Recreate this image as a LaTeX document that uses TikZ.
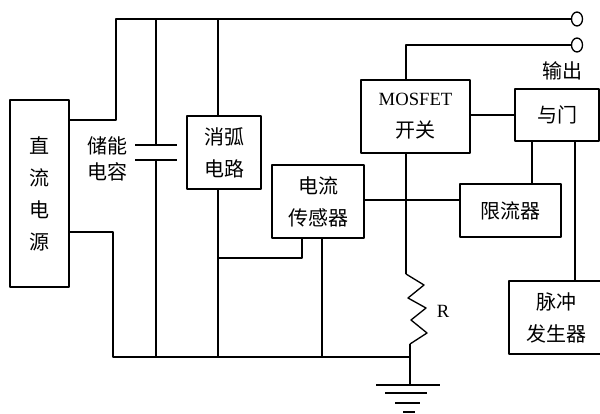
\documentclass[tikz,border=0pt]{standalone}
\usepackage{fontspec}
\usetikzlibrary{shapes.geometric}
\setmainfont{Liberation Serif}
\newfontfamily\cjk{Noto Sans CJK SC}

\tikzset{
  wire/.style={line width=1pt,line join=round},
  block/.style={draw,line width=1.1pt,inner sep=0pt,align=center,font=\cjk\fontsize{15}{24}\selectfont},
  plain/.style={inner sep=0pt,align=center,font=\cjk\fontsize{15}{20}\selectfont},
  terminal/.style={draw,ellipse,minimum width=8.25pt,minimum height=10.5pt,inner sep=0pt}
}

\begin{document}
\begin{tikzpicture}
  [x=.75pt,y=-.75pt,every path/.style={wire}]
  \useasboundingbox (0,0) rectangle (600,414);

  \node[block,minimum width=44.25pt,minimum height=140.25pt] (dc) at (39.5,193.5) {直\\流\\电\\源};
  \node[block,minimum width=55.5pt,minimum height=54.75pt] (arc) at (224,152.5) {消弧\\电路};
  \node[block,minimum width=69pt,minimum height=54.75pt] (sensor) at (318,201.5) {电流\\传感器};
  \node[block,minimum width=81.75pt,minimum height=54.75pt,font=\fontsize{14}{24}\selectfont] (mos) at (415.5,116.5) {MOSFET\\{\cjk\fontsize{15}{24}\selectfont 开关}};
  \node[block,minimum width=63pt,minimum height=39pt] (gate) at (557,115) {与门};
  \node[block,minimum width=75.75pt,minimum height=39.75pt] (limit) at (510.5,210.5) {限流器};
  \node[block,minimum width=70.5pt,minimum height=54.75pt] (pulse) at (556,317.5) {脉冲\\发生器};

  \node[plain] (caplabel) at (107,159) {储能\\电容};
  \node[plain] (outlabel) at (562,71) {输出};
  \node[inner sep=0pt,font=\fontsize{14}{16}\selectfont] (rlabel) at (443,311) {R};

  \node[terminal] (out1) at (577,19) {};
  \node[terminal] (out2) at (577,45) {};

  \coordinate (top1) at (116,19);
  \coordinate (top2) at (156,19);
  \coordinate (top3) at (218,19);
  \coordinate (in1) at (116,120);
  \coordinate (in2) at (113,232);
  \coordinate (bot1) at (113,357);
  \coordinate (bot2) at (156,357);
  \coordinate (bot3) at (218,357);
  \coordinate (bot4) at (322,357);
  \coordinate (bot5) at (410,357);
  \coordinate (capa) at (156,145);
  \coordinate (capb) at (156,160);
  \coordinate (capal) at (135,145);
  \coordinate (capar) at (177,145);
  \coordinate (capbl) at (135,160);
  \coordinate (capbr) at (177,160);
  \coordinate (tap) at (218,258);
  \coordinate (tapr) at (302,258);
  \coordinate (sense) at (364,200);
  \coordinate (drain) at (406,45);
  \coordinate (source) at (406,274);
  \coordinate (rend) at (410,344);
  \coordinate (gnd) at (410,385);
  \coordinate (gatea) at (532,141);
  \coordinate (gateb) at (575,141);

  \draw (dc.east |- in1) -- (in1) -- (top1) -- (out1.west);
  \draw (dc.east |- in2) -- (in2) -- (bot1) -- (bot5);
  \draw (out2.west) -- (drain) -- (mos.north -| drain);

  \foreach \from/\to in {top2/capa,capal/capar,capbl/capbr,capb/bot2,rend/gnd}
    \draw (\from) -- (\to);

  \draw (top3) -- (arc.north -| top3);
  \draw (arc.south -| top3) -- (bot3);
  \draw (tap) -- (tapr) -- (sensor.south -| tapr);
  \draw (sensor.south -| bot4) -- (bot4);
  \draw (sense) -- (limit.west |- sense);
  \draw (mos.south -| drain) -- (source);
  \draw (mos.east |- gate) -- (gate.west);
  \draw (gatea) -- (limit.north -| gatea);
  \draw (gateb) -- (pulse.north -| gateb);

  % resistor
  \draw (source) -- (424,285) -- (408,298) -- (426,308) -- (411,320) -- (427,333) -- (rend);

  % ground
  \draw (376,385) -- (440,385);
  \draw (385,393) -- (427,393);
  \draw (395,403) -- (420,403);
  \draw (403,412) -- (415,412);

\end{tikzpicture}
\end{document}
